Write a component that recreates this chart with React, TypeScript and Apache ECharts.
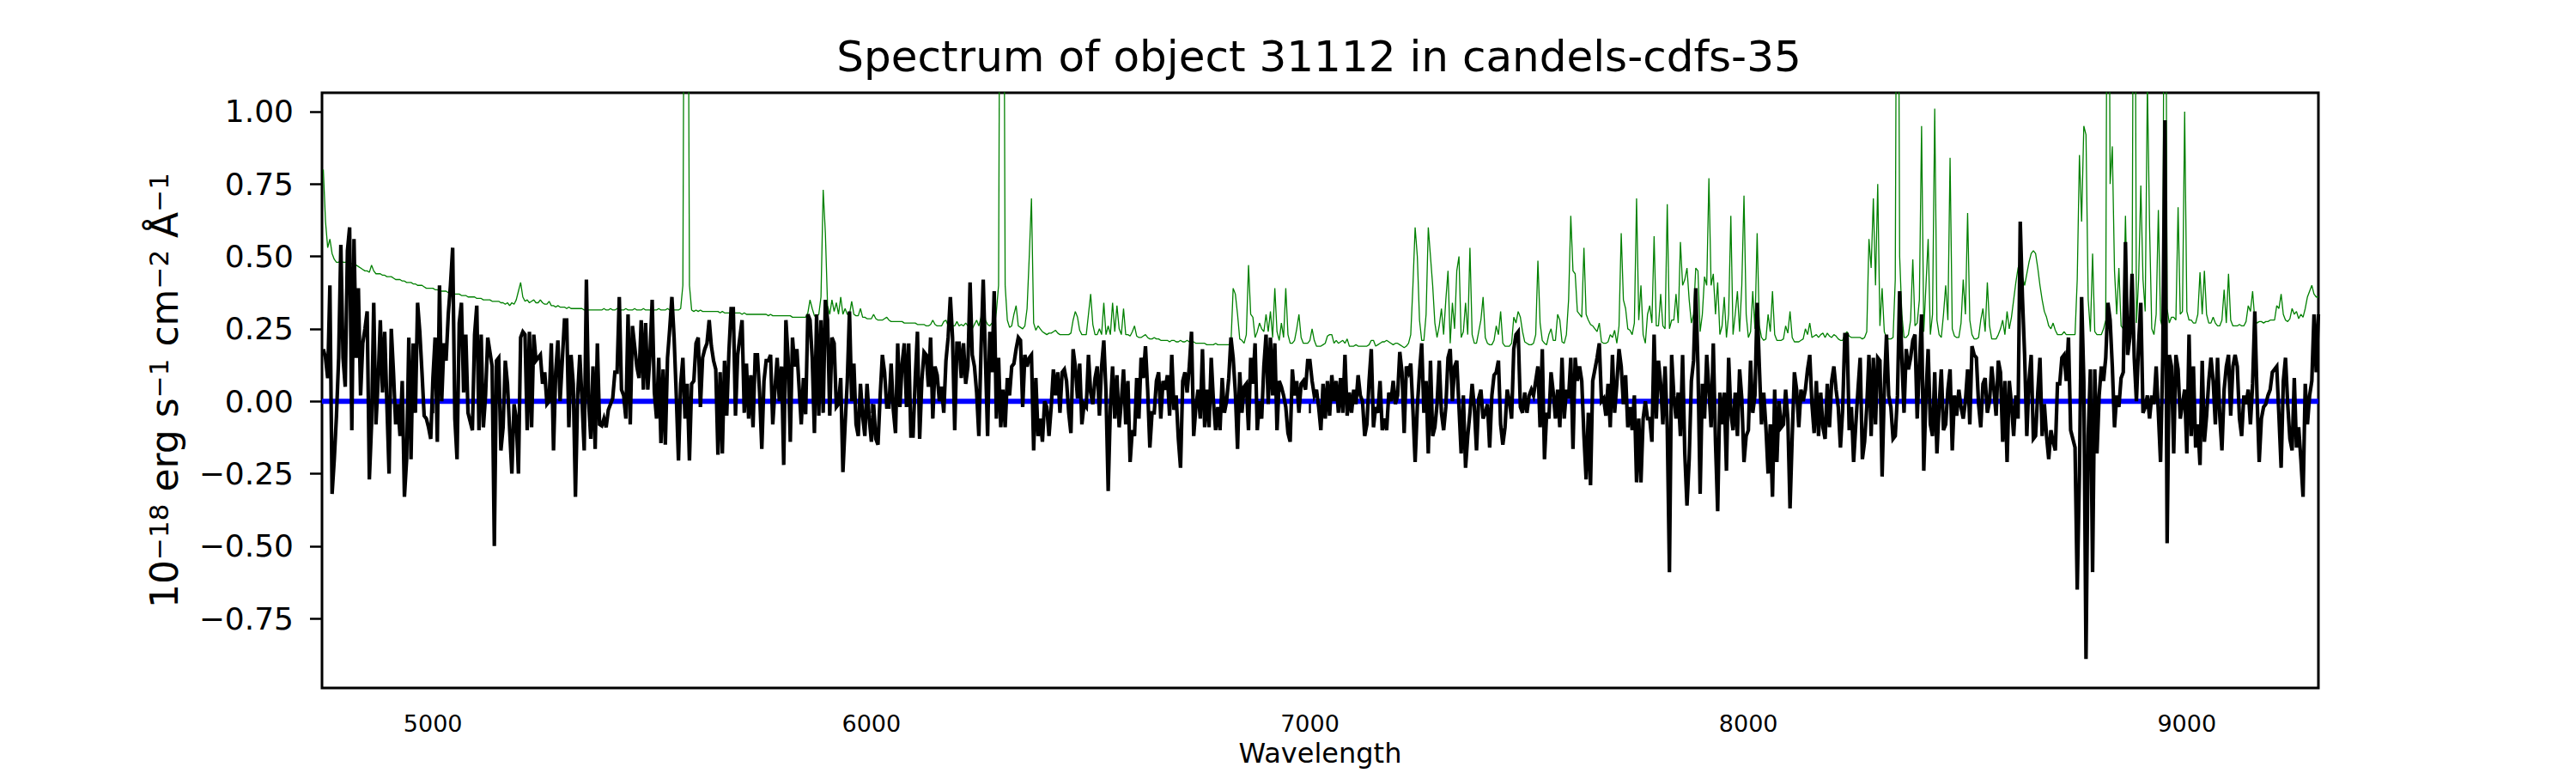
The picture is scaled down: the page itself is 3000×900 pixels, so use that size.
import React, { useEffect, useRef } from "react";
import * as echarts from "echarts";

const TITLE = "Spectrum of object 31112 in candels-cdfs-35";
const X_NAME = "Wavelength";
const Y_NAME = "10{sup|\u221218} erg s{sup|\u22121} cm{sup|\u22122} \u00c5{sup|\u22121}";

const WAVE_START = 4750;
const WAVE_STEP = 5;

const X_TICKS = [5000, 6000, 7000, 8000, 9000];
const Y_TICKS = [-0.75, -0.5, -0.25, 0, 0.25, 0.5, 0.75, 1.0];

// Observed flux (black), 4750-5890 A
const FLUX_A = [
  0.18, 0.15, 0.08, 0.40, -0.32, -0.20, -0.05,
  0.15, 0.54, 0.15, 0.05, 0.52, 0.60, -0.10, 0.56, 0.15, 0.39, 0.02, 0.20, 0.25,
  0.31, -0.27, -0.08, 0.34, -0.08, 0.07, 0.28, 0.03, 0.24, -0.01, -0.25, 0.25, 0.10,
  -0.08, -0.01, -0.12, 0.07, -0.33, -0.20, 0.22, -0.20, 0.20, -0.04, 0.34, 0.24, 0.10,
  -0.05, -0.06, -0.09, -0.13, 0.08, 0.22, -0.14, 0.40, 0.00, 0.20, 0.14, 0.30, 0.40,
  0.53, -0.06, -0.20, 0.27, 0.34, 0.03, 0.23, -0.04, -0.07,
  -0.10, 0.23, 0.33, -0.10, 0.23, -0.09, 0.02, 0.22, 0.17,
  0.12, -0.50, 0.14, 0.15, -0.17, -0.09, 0.14, 0.06, -0.10,
  -0.25, -0.01, -0.06, -0.25, 0.22, 0.24, 0.23, -0.10, 0.24, -0.09, 0.23, 0.14, 0.15,
  0.16, 0.06, 0.10, -0.01, 0.00, 0.20, -0.17, 0.10, 0.21, 0.00, 0.14,
  0.28, 0.28, -0.09, 0.16, 0.06, -0.33, 0.02, 0.16, 0.00,
  -0.17, 0.42, 0.00, -0.13, 0.12, -0.165, 0.20, -0.08, -0.085, -0.06, -0.09, -0.03, -0.01,
  0.01, 0.10, 0.10, 0.36, 0.04, 0.02, -0.06, 0.30, -0.08, 0.26, 0.19,
  0.12, 0.08, 0.28, 0.04, 0.27, 0.04, 0.16, 0.35, 0.03, -0.06, 0.15, -0.145, 0.11, -0.15, 0.15, 0.25,
  0.36, 0.22, 0.02, -0.205, 0.06, 0.15, -0.06, 0.06, -0.205, 0.06, 0.07, 0.20, 0.22, -0.02, 0.15, 0.18,
  0.20, 0.28, 0.19, 0.14, 0.11, -0.185, 0.10, -0.18, 0.14, -0.05, 0.17, 0.32, 0.32, -0.05, 0.16, 0.22,
  0.28, -0.04, 0.13, -0.06, 0.09, -0.09, 0.16, 0.16, 0.03, -0.165, 0.07, 0.14, 0.14, 0.16, -0.08, 0.04,
  0.15, 0.00, 0.12, -0.22, 0.28, 0.15, -0.14, 0.22, 0.12, 0.18, 0.05,
  -0.08, 0.08, -0.045, 0.30, 0.28, 0.15, -0.11, 0.30, -0.05, 0.28, -0.04,
];

// 5895-7045 A
const FLUX_B = [
  0.35, 0.28, -0.05, 0.22, 0.20, -0.02, -0.01, 0.08, -0.245, -0.08,
  0.07, 0.31, 0.00, 0.13, -0.08, -0.12, 0.06, -0.05, -0.12, 0.06,
  -0.06, -0.14, -0.01, -0.13, -0.15, 0.02, 0.16, 0.10, -0.02, -0.02,
  0.13, -0.03, -0.11, 0.20, -0.02, 0.13, 0.20, -0.02, 0.20,
  -0.12, -0.12, 0.08, 0.24, -0.13, 0.07, 0.17, 0.16, 0.05,
  0.22, -0.06, 0.12, 0.09, 0.00, 0.05, -0.04, 0.14, 0.22, 0.36,
  0.22, -0.10, 0.20, 0.20, 0.08, 0.20, 0.06, 0.12, 0.41, 0.16,
  0.12, 0.03, -0.12, 0.18, 0.42, 0.15, -0.12, 0.24, 0.10, 0.38,
  -0.06, 0.15, -0.09, 0.04, -0.09, 0.08, 0.02, 0.12, 0.13,
  0.18, 0.22, 0.21, -0.02, 0.16, 0.12, 0.15, 0.16, -0.17,
  0.08, -0.12, -0.06, -0.14, 0.00, -0.02, -0.12, -0.02, 0.11, 0.02,
  0.10, -0.04, 0.10, 0.11, 0.07, -0.04, -0.11, 0.18, 0.12, 0.01,
  0.13, -0.08, -0.01, -0.02, 0.16, 0.03, -0.01, 0.08, 0.12,
  -0.05, 0.12, 0.21, 0.03, -0.31, -0.02, 0.12, -0.06, 0.09, -0.09,
  0.00, 0.11, -0.08, 0.07, -0.21, -0.10, -0.12, 0.08, -0.06, 0.15, 0.08,
  0.19, 0.04, -0.16, -0.04, -0.04, 0.07, 0.10, -0.06, 0.07, 0.04,
  0.09, -0.05, 0.16, -0.03, 0.02, -0.13, -0.23, 0.07, 0.10, 0.03, 0.12,
  0.24, -0.12, -0.02, 0.04, -0.06, 0.18, -0.09, 0.04, -0.09, 0.15,
  0.00, -0.10, -0.02, -0.10, 0.08, -0.04, 0.00, 0.08, 0.22, 0.15, 0.03,
  -0.165, 0.10, -0.04, 0.05, 0.06, -0.10, 0.15, 0.06, 0.20, -0.10,
  0.00, -0.06, 0.12, 0.23, -0.01, 0.22, 0.02, 0.20, -0.10, 0.07, 0.05,
  0.02, -0.02, -0.11, -0.14, 0.11, 0.02, 0.07, -0.04, 0.06, 0.07,
  0.04, 0.14, 0.14, 0.07, 0.02, 0.04, -0.02, -0.10, 0.06, -0.06, 0.07, -0.05,
];

// 7050-8200 A
const FLUX_C = [
  0.09, 0.00, 0.07, -0.04, 0.08, -0.04, 0.16, -0.05, 0.03, -0.04,
  0.04, -0.01, 0.09, 0.02, 0.00, -0.12, -0.08, 0.07, 0.18, -0.09,
  -0.02, -0.04, 0.07, -0.10, -0.06, -0.10, 0.03, 0.00, 0.07, -0.01,
  0.02, 0.17, 0.10, -0.11, 0.12, 0.10, 0.13, -0.03, -0.21, -0.02,
  0.10, 0.20, -0.04, 0.07, -0.18, 0.14, -0.12, -0.09, -0.01, 0.14,
  -0.04, -0.10, -0.02, 0.15, 0.18, 0.00, 0.12, 0.14, -0.02, -0.18,
  0.02, -0.23, -0.12, -0.04, 0.06, -0.02, -0.17, 0.01, 0.04, -0.06,
  -0.04, -0.01, -0.16, 0.02, 0.09, 0.10, 0.14, -0.08, -0.15, -0.09,
  0.04, 0.00, -0.06, 0.18, 0.23, 0.24, -0.02, -0.04, 0.03, -0.04,
  0.02, 0.04, 0.02, 0.07, 0.12, -0.09, 0.18, -0.20, -0.04, -0.06,
  0.10, 0.03, -0.06, 0.04, -0.09, 0.15, -0.06, 0.04, 0.01, 0.15,
  -0.165, 0.15, 0.07, 0.12, 0.07, -0.12, -0.27, -0.04, -0.29, 0.07,
  0.11, 0.15, 0.20, 0.00, 0.01, -0.05, 0.06, -0.09, 0.16, -0.04,
  0.06, 0.18, 0.12, -0.01, 0.09, -0.09, -0.02, -0.10, 0.02, -0.28,
  -0.06, -0.28, -0.06, 0.00, -0.06, -0.06, -0.14, 0.23, -0.06, 0.14,
  0.06, -0.08, 0.12, -0.09, -0.59, 0.16, 0.02, -0.06, 0.03, -0.12,
  0.16, -0.18, -0.36, -0.20, 0.07, 0.14, 0.39, 0.12, -0.32, 0.06,
  -0.06, 0.16, 0.04, -0.09, 0.20, -0.14, -0.38, 0.03, -0.08, 0.03,
  -0.24, 0.15, -0.04, -0.10, 0.03, -0.12, 0.11, 0.01, -0.21, -0.12,
  -0.10, 0.14, -0.04, 0.02, 0.34, 0.12, -0.08, 0.03, -0.09, -0.25,
  -0.08, -0.33, 0.04, -0.21, 0.00, -0.09, -0.08, 0.04, -0.06, -0.37,
  -0.12, 0.10, 0.04, -0.09, 0.04, 0.00, 0.04, 0.11, 0.16, -0.01,
  -0.11, 0.07, -0.12, 0.03, -0.09, -0.13, 0.06, -0.09, 0.07, 0.12, 0.04,
];

// 8205-9300 A
const FLUX_D = [
  -0.02, -0.16, -0.03, 0.23, 0.23, -0.10, -0.02, -0.21, -0.08, 0.04,
  0.15, -0.20, -0.14, -0.02, 0.16, -0.12, 0.15, -0.08, 0.15, 0.14,
  -0.26, 0.04, 0.23, 0.02, -0.02, -0.13, -0.12, 0.02, 0.38, 0.15,
  -0.04, 0.18, 0.11, 0.15, 0.21, 0.23, -0.06, 0.12, 0.30, -0.24,
  0.02, 0.18, -0.08, -0.12, 0.10, -0.18, -0.02, 0.11, -0.10, -0.08,
  0.04, 0.11, -0.17, 0.02, -0.05, 0.04, -0.02, -0.06, 0.00, 0.11,
  -0.08, 0.19, 0.16, 0.15, -0.01, -0.09, 0.06, 0.08, -0.04, 0.00,
  0.12, 0.04, -0.05, 0.14, 0.10, -0.14, 0.07, -0.21, 0.07, -0.01,
  -0.12, 0.02, -0.06, 0.62, 0.36, 0.16, -0.12, 0.07, 0.16, -0.13,
  -0.12, 0.03, 0.15, -0.12, -0.01, -0.12, -0.20, -0.10, -0.14, -0.17,
  0.06, 0.06, 0.15, 0.16, 0.07, 0.22, -0.10, -0.13, -0.16, -0.65,
  -0.25, 0.36, 0.07, -0.89, -0.12, 0.11, -0.59, 0.11, -0.18, 0.02,
  0.12, 0.07, 0.15, 0.34, 0.28, 0.12, -0.09, 0.02, -0.02, 0.08,
  0.10, 0.55, 0.16, 0.22, 0.44, 0.15, 0.00, 0.20, 0.34, -0.04,
  -0.02, 0.02, -0.06, 0.02, -0.01, 0.12, -0.04, -0.21, 0.15, 0.97,
  -0.49, 0.16, 0.12, -0.18, 0.16, 0.11, -0.06, -0.01, 0.04, -0.18,
  0.23, -0.12, 0.12, -0.16, -0.08, -0.22, 0.14, -0.14, -0.05, 0.07,
  0.15, 0.07, -0.08, 0.15, -0.05, -0.17, 0.04, 0.12, 0.16, -0.05,
  0.12, 0.16, 0.12, -0.06, -0.12, 0.02, -0.01, 0.04, -0.08, 0.06,
  0.31, 0.02, -0.21, -0.06, -0.02, -0.01, 0.02, 0.04, 0.10, 0.11,
  0.12, -0.05, -0.23, 0.07, 0.15, -0.01, -0.13, -0.17, 0.08, -0.16,
  -0.09, -0.20, -0.33, 0.06, -0.08, 0.02, 0.07, 0.30, 0.10, 0.30,
];

// Noise / sky spectrum (green), same wavelength grid
const SKY_A = [
  0.80, 0.62, 0.53, 0.56, 0.51, 0.49, 0.48, 0.48, 0.485, 0.48,
  0.48, 0.48, 0.475, 0.475, 0.47, 0.47, 0.465, 0.46, 0.455, 0.45,
  0.45, 0.445, 0.47, 0.45, 0.44, 0.44, 0.44, 0.435, 0.435, 0.43,
  0.43, 0.43, 0.425, 0.42, 0.42, 0.42, 0.415, 0.415, 0.41, 0.41,
  0.41, 0.405, 0.405, 0.40, 0.40, 0.40, 0.395, 0.39, 0.39, 0.39,
  0.39, 0.385, 0.385, 0.38, 0.38, 0.38, 0.38, 0.375, 0.375, 0.37,
  0.37, 0.37, 0.37, 0.365, 0.365, 0.365, 0.36, 0.36, 0.36, 0.36,
  0.355, 0.355, 0.355, 0.35, 0.35, 0.35, 0.35, 0.345, 0.345, 0.345,
  0.345, 0.34, 0.34, 0.335, 0.34, 0.33, 0.34, 0.335, 0.35, 0.38,
  0.41, 0.36, 0.345, 0.35, 0.34, 0.345, 0.35, 0.34, 0.34, 0.35,
  0.34, 0.335, 0.335, 0.345, 0.33, 0.33, 0.325, 0.33, 0.325, 0.325,
  0.325, 0.32, 0.325, 0.32, 0.32, 0.32, 0.32, 0.32, 0.32, 0.315,
  0.315, 0.315, 0.315, 0.315, 0.315, 0.315, 0.315, 0.315, 0.32, 0.315,
  0.315, 0.32, 0.315, 0.315, 0.32, 0.315, 0.315, 0.315, 0.32, 0.315,
  0.315, 0.315, 0.32, 0.315, 0.315, 0.315, 0.32, 0.315, 0.315, 0.315,
  0.31, 0.315, 0.315, 0.32, 0.315, 0.315, 0.315, 0.32, 0.315, 0.315,
  0.315, 0.315, 0.315, 0.32, 0.40, 2.5, 2.5, 0.40, 0.315, 0.31,
  0.315, 0.31, 0.315, 0.31, 0.31, 0.31, 0.31, 0.31, 0.31, 0.31,
  0.31, 0.305, 0.31, 0.305, 0.305, 0.305, 0.305, 0.305, 0.305, 0.305,
  0.305, 0.30, 0.305, 0.30, 0.30, 0.30, 0.30, 0.30, 0.30, 0.30,
  0.30, 0.30, 0.30, 0.295, 0.30, 0.295, 0.295, 0.295, 0.295, 0.295,
  0.295, 0.295, 0.295, 0.295, 0.29, 0.29, 0.29, 0.29, 0.29, 0.29,
  0.29, 0.305, 0.35, 0.32, 0.295, 0.29, 0.30, 0.36, 0.73,
];

const SKY_B = [
  0.58, 0.33, 0.30, 0.35, 0.31, 0.34, 0.30, 0.36, 0.30, 0.32,
  0.30, 0.30, 0.345, 0.30, 0.295, 0.295, 0.32, 0.29, 0.29, 0.285,
  0.285, 0.285, 0.30, 0.285, 0.28, 0.28, 0.28, 0.285, 0.29, 0.28,
  0.275, 0.275, 0.275, 0.275, 0.275, 0.275, 0.27, 0.27, 0.27, 0.27,
  0.27, 0.27, 0.265, 0.265, 0.265, 0.265, 0.26, 0.26, 0.265, 0.28,
  0.265, 0.26, 0.26, 0.26, 0.275, 0.28, 0.26, 0.255, 0.26, 0.26,
  0.275, 0.26, 0.265, 0.26, 0.27, 0.26, 0.255, 0.25, 0.265, 0.28,
  0.26, 0.29, 0.37, 0.28, 0.265, 0.26, 0.27, 0.25, 0.31, 0.40,
  2.5, 2.5, 0.40, 0.28, 0.255, 0.26, 0.30, 0.33, 0.26, 0.255,
  0.25, 0.26, 0.32, 0.50, 0.70, 0.27, 0.245, 0.26, 0.25, 0.24,
  0.235, 0.23, 0.235, 0.235, 0.24, 0.245, 0.235, 0.23, 0.23, 0.23,
  0.23, 0.23, 0.235, 0.28, 0.31, 0.29, 0.245, 0.23, 0.23, 0.23,
  0.30, 0.37, 0.265, 0.23, 0.23, 0.25, 0.23, 0.34, 0.23, 0.26,
  0.23, 0.34, 0.24, 0.33, 0.25, 0.23, 0.32, 0.23, 0.23, 0.225,
  0.24, 0.26, 0.225, 0.22, 0.22, 0.225, 0.23, 0.22, 0.215, 0.215,
  0.22, 0.215, 0.215, 0.21, 0.21, 0.21, 0.21, 0.205, 0.21, 0.21,
  0.205, 0.205, 0.21, 0.205, 0.205, 0.21, 0.205, 0.20, 0.205, 0.20,
  0.20, 0.20, 0.20, 0.20, 0.195, 0.195, 0.195, 0.195, 0.20, 0.195,
  0.195, 0.195, 0.195, 0.195, 0.195, 0.20, 0.39, 0.37, 0.30, 0.215,
  0.21, 0.20, 0.23, 0.47, 0.30, 0.29, 0.22, 0.24, 0.27, 0.25,
  0.24, 0.30, 0.24, 0.31, 0.22, 0.39, 0.24, 0.21, 0.27, 0.22,
  0.39, 0.23, 0.20, 0.20, 0.21, 0.25, 0.30, 0.22, 0.20, 0.20,
  0.20, 0.21, 0.25, 0.21, 0.19, 0.19, 0.19, 0.195, 0.20, 0.225,
  0.23,
];

const SKY_C = [
  0.23, 0.20, 0.21, 0.20, 0.205, 0.21, 0.20, 0.215, 0.19, 0.19,
  0.19, 0.195, 0.19, 0.19, 0.19, 0.19, 0.19, 0.195, 0.21, 0.21,
  0.19, 0.195, 0.20, 0.205, 0.205, 0.21, 0.205, 0.20, 0.195, 0.20,
  0.20, 0.195, 0.19, 0.185, 0.19, 0.20, 0.23, 0.40, 0.60, 0.50,
  0.28, 0.21, 0.21, 0.30, 0.60, 0.50, 0.40, 0.27, 0.22, 0.26,
  0.32, 0.23, 0.35, 0.45, 0.20, 0.34, 0.25, 0.45, 0.50, 0.22,
  0.24, 0.34, 0.23, 0.53, 0.23, 0.20, 0.20, 0.24, 0.28, 0.36,
  0.22, 0.20, 0.195, 0.195, 0.21, 0.26, 0.23, 0.31, 0.20, 0.19,
  0.19, 0.19, 0.20, 0.29, 0.27, 0.31, 0.29, 0.24, 0.205, 0.20,
  0.195, 0.195, 0.20, 0.23, 0.485, 0.27, 0.21, 0.20, 0.195, 0.23,
  0.25, 0.21, 0.21, 0.30, 0.28, 0.205, 0.20, 0.23, 0.35, 0.64,
  0.45, 0.44, 0.31, 0.30, 0.29, 0.53, 0.30, 0.28, 0.265, 0.26,
  0.25, 0.24, 0.27, 0.205, 0.20, 0.20, 0.205, 0.23, 0.22, 0.245,
  0.20, 0.26, 0.58, 0.35, 0.32, 0.25, 0.245, 0.23, 0.27, 0.70,
  0.28, 0.40, 0.23, 0.20, 0.30, 0.33, 0.27, 0.57, 0.26, 0.26,
  0.37, 0.26, 0.25, 0.68, 0.25, 0.28, 0.28, 0.37, 0.27, 0.55,
  0.40, 0.42, 0.46, 0.35, 0.27, 0.30, 0.46, 0.45, 0.24, 0.30,
  0.43, 0.40, 0.77, 0.40, 0.44, 0.30, 0.41, 0.23, 0.26, 0.36,
  0.22, 0.30, 0.64, 0.23, 0.30, 0.38, 0.24, 0.40, 0.71, 0.30,
  0.22, 0.24, 0.38, 0.25, 0.58, 0.26, 0.22, 0.21, 0.215, 0.30,
  0.24, 0.38, 0.23, 0.21, 0.21, 0.21, 0.215, 0.26, 0.235, 0.31,
  0.22, 0.205, 0.205, 0.205, 0.21, 0.215, 0.25, 0.23, 0.27, 0.22,
  0.225, 0.23, 0.22, 0.23, 0.235, 0.22, 0.235, 0.225, 0.22, 0.23,
  0.225,
];

const SKY_D = [
  0.215, 0.21, 0.21, 0.23, 0.24, 0.225, 0.22, 0.22, 0.22, 0.22,
  0.22, 0.215, 0.22, 0.24, 0.56, 0.46, 0.70, 0.40, 0.75, 0.26,
  0.39, 0.24, 0.22, 0.215, 0.215, 0.22, 0.42, 2.5, 0.50, 0.30,
  0.22, 0.22, 0.23, 0.28, 0.49, 0.26, 0.27, 0.35, 0.95, 0.24,
  0.40, 0.56, 0.23, 0.30, 1.01, 0.28, 0.23, 0.22, 0.30, 0.40,
  0.28, 0.84, 0.25, 0.225, 0.22, 0.22, 0.27, 0.42, 0.30, 0.65,
  0.28, 0.23, 0.215, 0.215, 0.22, 0.28, 0.32, 0.24, 0.41, 0.26,
  0.215, 0.215, 0.215, 0.23, 0.25, 0.28, 0.23, 0.31, 0.25, 0.29,
  0.35, 0.41, 0.46, 0.48, 0.43, 0.40, 0.44, 0.48, 0.51, 0.52,
  0.51, 0.46, 0.40, 0.35, 0.31, 0.29, 0.26, 0.25, 0.27, 0.245,
  0.23, 0.23, 0.23, 0.24, 0.23, 0.23, 0.23, 0.23, 0.23, 0.42,
  0.85, 0.62, 0.95, 0.92, 0.35, 0.24, 0.51, 0.24, 0.23, 0.23,
  0.23, 0.25, 0.28, 2.5, 0.75, 0.88, 0.45, 0.30, 0.46, 0.26,
  0.25, 0.64, 0.27, 0.23, 0.30, 2.5, 0.27, 0.42, 0.745, 0.42,
  0.31, 1.1, 0.60, 0.25, 0.23, 0.30, 0.66, 0.28, 0.25, 2.5,
  0.32, 0.27, 0.29, 0.29, 0.28, 0.67, 0.30, 0.31, 1.0, 0.31,
  0.28, 0.28, 0.27, 0.27, 0.30, 0.445, 0.30, 0.45, 0.30, 0.27,
  0.27, 0.29, 0.27, 0.26, 0.26, 0.28, 0.385, 0.27, 0.44, 0.28,
  0.26, 0.26, 0.26, 0.265, 0.26, 0.26, 0.275, 0.33, 0.31, 0.38,
  0.28, 0.27, 0.275, 0.275, 0.27, 0.275, 0.275, 0.28, 0.28, 0.28,
  0.33, 0.32, 0.37, 0.30, 0.28, 0.275, 0.285, 0.32, 0.30, 0.31,
  0.285, 0.30, 0.29, 0.32, 0.36, 0.38, 0.40, 0.37, 0.36, 0.36,
];

// Model (blue)
const MODEL_WAVE = [4747, 9300];
const MODEL_FLUX = [0, 0];

const FONT = "DejaVu Sans";

function toPairs(values: number[]): number[][] {
  return values.map((v, i) => [WAVE_START + WAVE_STEP * i, v]);
}

export default function App() {
  const ref = useRef<HTMLDivElement>(null);

  useEffect(() => {
    if (!ref.current) return;
    const chart = echarts.init(ref.current, null, { renderer: "svg" });
    const flux = toPairs([...FLUX_A, ...FLUX_B, ...FLUX_C, ...FLUX_D]);
    const sky = toPairs([...SKY_A, ...SKY_B, ...SKY_C, ...SKY_D]);
    const model = MODEL_WAVE.map((w, i) => [w, MODEL_FLUX[i]]);

    chart.setOption({
      animation: false,
      backgroundColor: "#ffffff",
      textStyle: { fontFamily: FONT },
      title: {
        text: TITLE,
        left: 1536,
        textAlign: "center",
        top: 41,
        padding: 0,
        textStyle: { fontFamily: FONT, fontSize: 50, fontWeight: "normal", color: "#000" },
      },
      grid: {
        left: 375,
        right: 300,
        top: 108,
        bottom: 99,
        show: true,
        borderColor: "#000",
        borderWidth: 3,
        backgroundColor: "transparent",
        containLabel: false,
      },
      xAxis: {
        type: "value",
        min: 4747,
        max: 9300,
        name: X_NAME,
        nameLocation: "middle",
        nameGap: 60,
        nameTextStyle: { fontFamily: FONT, fontSize: 32, color: "#000" },
        axisLine: { show: false },
        axisTick: {
          show: true,
          length: 14,
          lineStyle: { color: "#000", width: 2.5 },
          customValues: X_TICKS,
        },
        axisLabel: {
          customValues: X_TICKS,
          fontFamily: FONT,
          fontSize: 27,
          color: "#000",
          margin: 28,
          formatter: (v: number) => String(Math.round(v)),
        },
        splitLine: { show: false },
      },
      yAxis: {
        type: "value",
        min: -0.99,
        max: 1.065,
        name: Y_NAME,
        nameLocation: "middle",
        nameGap: 162,
        nameRotate: 90,
        nameTextStyle: {
          fontFamily: FONT,
          fontSize: 44,
          color: "#000",
          rich: {
            sup: { fontFamily: FONT, fontSize: 31, color: "#000", verticalAlign: "top" },
          },
        },
        axisLine: { show: false },
        axisTick: {
          show: true,
          length: 14,
          lineStyle: { color: "#000", width: 2.5 },
          customValues: Y_TICKS,
        },
        axisLabel: {
          customValues: Y_TICKS,
          fontFamily: FONT,
          fontSize: 36,
          color: "#000",
          margin: 33,
          formatter: (v: number) => (v < 0 ? "\u2212" : "") + Math.abs(v).toFixed(2),
        },
        splitLine: { show: false },
      },
      series: [
        {
          name: "model",
          type: "line",
          data: model,
          symbol: "none",
          lineStyle: { color: "#0000ff", width: 6 },
          z: 1,
        },
        {
          name: "noise",
          type: "line",
          data: sky,
          symbol: "none",
          clip: true,
          lineStyle: { color: "#008000", width: 1.3 },
          z: 2,
        },
        {
          name: "flux",
          type: "line",
          data: flux,
          symbol: "none",
          clip: true,
          lineStyle: { color: "#000000", width: 4.2, join: "miter" },
          z: 3,
        },
      ],
    });

    return () => chart.dispose();
  }, []);

  return (
    <div
      ref={ref}
      style={{ position: "fixed", left: 0, top: 0, width: 3000, height: 900, background: "#fff" }}
    />
  );
}
